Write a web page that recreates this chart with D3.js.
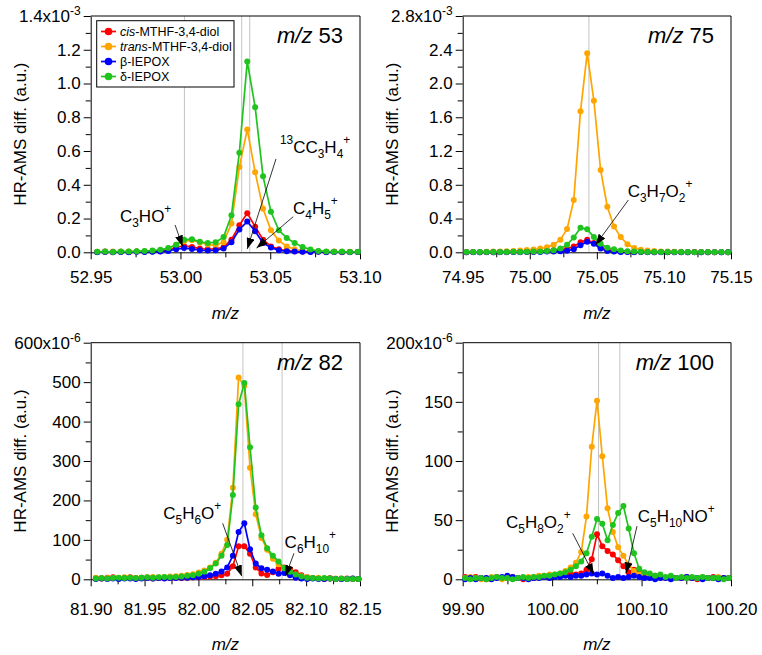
<!DOCTYPE html>
<html><head><meta charset="utf-8">
<script src="https://cdn.jsdelivr.net/npm/d3@7"></script>
<style>
body{margin:0;background:#fff;}
svg text{font-family:Arial,"Liberation Sans",Helvetica,sans-serif;fill:#000;}
</style></head>
<body><svg id="c" width="762" height="655"></svg>
<script>
// ---------------- DATA ----------------
const seriesNames = ["cis-MTHF-3,4-diol","trans-MTHF-3,4-diol","β-IEPOX","δ-IEPOX"];
const seriesItalic = ["cis","trans","",""];
const seriesColors = ["#ff0000","#ffa500","#0000ff","#1fc41f"];

// m/z 53 (values x10^-3)
const x53 = [52.9536,52.9580,52.9624,52.9668,52.9712,52.9756,52.9800,52.9844,52.9888,52.9932,52.9976,53.0020,53.0064,53.0108,53.0152,53.0196,53.0240,53.0284,53.0328,53.0372,53.0416,53.0460,53.0504,53.0548,53.0592,53.0636,53.0680,53.0724,53.0768,53.0812,53.0856,53.0900,53.0944,53.0988];
const cis53 = [0.002,0.004,0.001,0.003,0.002,0.004,0.003,0.005,0.006,0.012,0.030,0.038,0.032,0.022,0.018,0.020,0.030,0.075,0.160,0.232,0.152,0.075,0.035,0.018,0.010,0.006,0.004,0.003,0.004,0.002,0.003,0.001,0.002,0.002];
const trans53 = [0.003,0.002,0.004,0.003,0.005,0.004,0.006,0.008,0.012,0.022,0.045,0.065,0.072,0.058,0.045,0.042,0.060,0.170,0.505,0.728,0.475,0.258,0.130,0.070,0.035,0.018,0.010,0.006,0.004,0.003,0.004,0.002,0.003,0.002];
const beta53 = [0.001,0.002,0.001,0.002,0.001,0.003,0.002,0.003,0.004,0.008,0.018,0.025,0.020,0.012,0.010,0.012,0.022,0.060,0.135,0.182,0.125,0.055,0.028,0.012,0.006,0.004,0.003,0.002,0.003,0.001,0.002,0.002,0.001,0.002];
const delta53 = [0.003,0.004,0.002,0.005,0.004,0.006,0.008,0.010,0.015,0.025,0.045,0.075,0.078,0.062,0.055,0.060,0.090,0.220,0.590,1.130,0.860,0.450,0.240,0.130,0.085,0.055,0.032,0.016,0.008,0.005,0.003,0.004,0.002,0.003];

// m/z 75 (values x10^-3)
const x75 = [74.9528,74.9578,74.9628,74.9678,74.9728,74.9778,74.9828,74.9878,74.9928,74.9978,75.0028,75.0078,75.0128,75.0178,75.0228,75.0278,75.0328,75.0378,75.0428,75.0478,75.0528,75.0578,75.0628,75.0678,75.0728,75.0778,75.0828,75.0878,75.0928,75.0978,75.1028,75.1078,75.1128,75.1178,75.1228,75.1278,75.1328,75.1378,75.1428,75.1478];
const cis75 = [0.002,0.003,0.002,0.003,0.002,0.004,0.003,0.004,0.005,0.006,0.008,0.012,0.018,0.025,0.030,0.040,0.070,0.120,0.150,0.110,0.060,0.030,0.018,0.010,0.006,0.004,0.003,0.004,0.002,0.003,0.002,0.003,0.002,0.002,0.003,0.002,0.002,0.001,0.002,0.002];
const trans75 = [0.003,0.004,0.005,0.006,0.008,0.010,0.013,0.016,0.020,0.026,0.034,0.045,0.060,0.088,0.150,0.275,0.620,1.670,2.360,1.795,0.975,0.540,0.305,0.180,0.095,0.050,0.030,0.020,0.014,0.010,0.008,0.007,0.006,0.005,0.005,0.004,0.004,0.003,0.003,0.002];
const beta75 = [0.001,0.002,0.001,0.002,0.001,0.002,0.002,0.003,0.002,0.003,0.004,0.005,0.008,0.010,0.012,0.018,0.035,0.085,0.125,0.100,0.045,0.015,0.008,0.005,0.003,0.002,0.003,0.002,0.001,0.002,0.002,0.001,0.002,0.001,0.002,0.001,0.001,0.002,0.001,0.001];
const delta75 = [0.004,0.003,0.005,0.004,0.003,0.005,0.004,0.006,0.005,0.006,0.008,0.010,0.015,0.025,0.045,0.090,0.175,0.292,0.272,0.180,0.100,0.055,0.035,0.020,0.012,0.008,0.006,0.005,0.004,0.005,0.003,0.004,0.003,0.004,0.002,0.003,0.003,0.002,0.003,0.002];

// m/z 82 (values x10^-6)
const x82 = [81.9048,81.9101,81.9154,81.9207,81.9260,81.9313,81.9366,81.9419,81.9472,81.9525,81.9578,81.9631,81.9684,81.9737,81.9790,81.9843,81.9896,81.9949,82.0002,82.0055,82.0108,82.0161,82.0214,82.0267,82.0320,82.0373,82.0426,82.0479,82.0532,82.0585,82.0638,82.0691,82.0744,82.0797,82.0850,82.0903,82.0956,82.1009,82.1062,82.1115,82.1168,82.1221,82.1274,82.1327,82.1380,82.1433,82.1486];
const cis82 = [3,2,4,5,3,4,5,3,4,3,2,3,4,3,4,3,4,5,5,6,7,8,10,14,33,84,84,65,30,15,11,18,27,30,26,18,10,5,3,2,1,2,1,1,2,1,1];
const trans82 = [4,2,3,4,3,5,4,3,4,5,6,5,6,7,8,9,11,13,17,22,30,42,65,100,232,512,490,283,165,105,75,52,38,28,20,12,8,5,3,4,2,3,2,2,1,2,1];
const beta82 = [1,2,1,2,1,2,2,1,2,3,2,3,2,3,3,4,4,5,6,8,10,14,20,30,60,120,142,76,40,28,24,20,14,16,10,4,2,1,2,1,1,2,1,1,1,2,1];
const delta82 = [2,3,2,3,4,3,4,3,4,5,4,5,6,5,6,7,9,10,14,19,28,40,60,87,214,444,498,335,182,112,79,60,45,28,19,12,7,4,3,2,3,2,1,2,1,1,1];

// m/z 100 (values x10^-6)
const x100 = [99.9027,99.9086,99.9145,99.9204,99.9263,99.9322,99.9381,99.9440,99.9499,99.9558,99.9617,99.9676,99.9735,99.9794,99.9853,99.9912,99.9971,100.0030,100.0089,100.0148,100.0207,100.0266,100.0325,100.0384,100.0443,100.0502,100.0561,100.0620,100.0679,100.0738,100.0797,100.0856,100.0915,100.0974,100.1033,100.1092,100.1151,100.1210,100.1269,100.1328,100.1387,100.1446,100.1505,100.1564,100.1623,100.1682,100.1741,100.1800,100.1859,100.1918,100.1977];
const cis100 = [2,1,2,1,0,1,2,1,1,2,1,0,1,1,2,2,3,3,4,4,5,4,5,8,17,38,28,24,21,16,11,6,8,5,3,2,3,2,1,2,1,1,2,1,0,1,1,2,1,1,1];
const trans100 = [1,2,1,0,1,2,1,0,1,2,1,1,2,2,3,3,4,4,5,7,10,14,23,53,112,151,104,60,40,27,20,12,7,4,3,3,2,3,1,2,1,1,2,1,1,2,1,1,2,1,1];
const beta100 = [0,1,0,1,1,0,1,2,3,2,1,1,0,1,1,2,1,2,2,3,2,3,3,4,5,4,5,3,1,2,1,2,3,2,1,1,0,1,1,0,1,1,2,1,1,0,1,1,0,1,1];
const delta100 = [1,0,1,1,0,1,2,1,1,0,1,2,1,2,2,3,3,4,5,6,8,11,15,22,36,51,47,33,46,56,62,43,22,9,6,5,3,4,2,3,1,2,1,2,1,2,1,1,1,0,1];

// ion exact masses (grey guide lines)
const ions53 = [53.0022, 53.0341, 53.0386];
const ions75 = [75.0441];
const ions82 = [82.0413, 82.0777];
const ions100 = [100.0519, 100.0757];

// ion annotations: label, text anchor (data), arrow tail -> head (data)
const ann53 = [
  {label:"C_3HO^+", tx:52.9663, ty:0.18, x1:52.997, y1:0.162, x2:53.0012, y2:0.035},
  {label:"^{13}CC_3H_4^+", tx:53.0554, ty:0.588, x1:53.0532, y1:0.553, x2:53.0372, y2:0.02},
  {label:"C_4H_5^+", tx:53.0627, ty:0.227, x1:53.0628, y1:0.211, x2:53.0424, y2:0.025}
];
const ann75 = [
  {label:"C_3H_7O_2^+", tx:75.073, ty:0.655, x1:75.0735, y1:0.62, x2:75.049, y2:0.086}
];
const ann82 = [
  {label:"C_5H_6O^+", tx:81.9674, ty:153, x1:82.0225, y1:142, x2:82.0402, y2:8},
  {label:"C_6H_{10}^+", tx:82.0800, ty:79, x1:82.0887, y1:66, x2:82.0808, y2:8}
];
const ann100 = [
  {label:"C_5H_8O_2^+", tx:99.9484, ty:43.4, x1:100.023, y1:38.9, x2:100.0465, y2:4},
  {label:"C_5H_{10}NO^+", tx:100.0957, ty:48.4, x1:100.0949, y1:45, x2:100.0826, y2:5}
];

// tick labels
const xMajor53 = [52.95,53.00,53.05,53.10], xMinor53 = [52.975,53.025,53.075];
const yMajor53 = [0,0.2,0.4,0.6,0.8,1.0,1.2], yMinor53 = [0.1,0.3,0.5,0.7,0.9,1.1,1.3];
const xMajor75 = [74.95,75.00,75.05,75.10,75.15], xMinor75 = [74.975,75.025,75.075,75.125];
const yMajor75 = [0,0.4,0.8,1.2,1.6,2.0,2.4], yMinor75 = [0.2,0.6,1.0,1.4,1.8,2.2,2.6];
const xMajor82 = [81.90,81.95,82.00,82.05,82.10,82.15], xMinor82 = [81.925,81.975,82.025,82.075,82.125];
const yMajor82 = [0,100,200,300,400,500], yMinor82 = [50,150,250,350,450,550];
const xMajor100 = [99.90,100.00,100.10,100.20], xMinor100 = [99.95,100.05,100.15];
const yMajor100 = [0,50,100,150], yMinor100 = [25,75,125,175];

// ---------------- LAYOUT ----------------
const svg = d3.select("#c");
const FONT = 'Arial, "Liberation Sans", Helvetica, sans-serif';
const defs = svg.append("defs");
defs.append("marker").attr("id","ah").attr("markerUnits","userSpaceOnUse")
  .attr("markerWidth",11).attr("markerHeight",8).attr("refX",11).attr("refY",4)
  .attr("orient","auto")
  .append("path").attr("d","M0,0 L11,4 L0,8 Z").attr("fill","#000");

const panels = [
  {left:90.7, top:16, w:269.3, h:236.3, xs:x53, ys:[cis53,trans53,beta53,delta53], xDom:[52.95,53.10], yTop:1.4, exp:"-3",
   xMaj:xMajor53, xMin:xMinor53, yMaj:yMajor53, yMin:yMinor53, yFmt:".1f", ions:ions53, ann:ann53, title:"53", xLabOff:30.5, xTitle:319, legend:true},
  {left:462.7, top:16, w:268.3, h:236.3, xs:x75, ys:[cis75,trans75,beta75,delta75], xDom:[74.95,75.15], yTop:2.8, exp:"-3",
   xMaj:xMajor75, xMin:xMinor75, yMaj:yMajor75, yMin:yMinor75, yFmt:".1f", ions:ions75, ann:ann75, title:"75", xLabOff:30.5, xTitle:319},
  {left:90.7, top:342.7, w:269.3, h:236.6, xs:x82, ys:[cis82,trans82,beta82,delta82], xDom:[81.90,82.15], yTop:600, exp:"-6",
   xMaj:xMajor82, xMin:xMinor82, yMaj:yMajor82, yMin:yMinor82, yFmt:"d", ions:ions82, ann:ann82, title:"82", xLabOff:36, xTitle:650},
  {left:462.7, top:342.7, w:268.3, h:236.6, xs:x100, ys:[cis100,trans100,beta100,delta100], xDom:[99.90,100.20], yTop:200, exp:"-6",
   xMaj:xMajor100, xMin:xMinor100, yMaj:yMajor100, yMin:yMinor100, yFmt:"d", ions:ions100, ann:ann100, title:"100", xLabOff:36, xTitle:650}
];

function parseRich(str){
  const re = /(_\{[^}]*\}|_\d+|\^\{[^}]*\}|\^[+\-]|\*[^*]*\*)/g;
  const out = []; let last = 0, m;
  while((m = re.exec(str))){
    if(m.index > last) out.push({t:str.slice(last,m.index), k:"n"});
    let tok = m[0];
    if(tok[0]==="_") out.push({t:tok.replace(/^_\{?|\}$/g,""), k:"sub"});
    else if(tok[0]==="^") out.push({t:tok.replace(/^\^\{?|\}$/g,""), k:"sup"});
    else out.push({t:tok.slice(1,-1), k:"it"});
    last = m.index + tok.length;
  }
  if(last < str.length) out.push({t:str.slice(last), k:"n"});
  return out;
}
function rich(textSel, str, size){
  let shift = 0;
  parseRich(str).forEach(p=>{
    const target = p.k==="sub" ? size*0.3 : p.k==="sup" ? -size*0.55 : 0;
    const ts = textSel.append("tspan").text(p.t);
    if(target - shift !== 0) ts.attr("dy", target - shift);
    if(p.k==="sub"||p.k==="sup") ts.attr("font-size", size*0.7);
    if(p.k==="it") ts.attr("font-style","italic");
    shift = target;
  });
}

panels.forEach((P,pi)=>{
  const x = d3.scaleLinear().domain(P.xDom).range([P.left, P.left+P.w]);
  const y = d3.scaleLinear().domain([0,P.yTop]).range([P.top+P.h, P.top]);
  const g = svg.append("g");

  // ion guide lines
  g.selectAll("line.ion").data(P.ions).join("line")
    .attr("x1",d=>x(d)).attr("x2",d=>x(d)).attr("y1",y(P.yTop)).attr("y2",y(0))
    .attr("stroke","#c4c4c4").attr("stroke-width",1);

  // frame (top & right)
  g.append("path").attr("d",`M${P.left},${P.top}H${P.left+P.w}V${P.top+P.h}`)
    .attr("fill","none").attr("stroke","#000").attr("stroke-width",1);

  // axes
  const yAx = g.append("g").attr("transform",`translate(${P.left},0)`)
    .call(d3.axisLeft(y).tickValues(P.yMaj.concat([P.yTop])).tickSize(7).tickSizeOuter(0).tickPadding(3)
      .tickFormat(d=> d===P.yTop ? d3.format(P.yFmt==="d"?"d":".1f")(d)+"x10" : d3.format(P.yFmt)(d)));
  g.append("g").attr("transform",`translate(${P.left},0)`)
    .call(d3.axisLeft(y).tickValues(P.yMin).tickSize(5).tickSizeOuter(0).tickFormat(""))
    .select(".domain").remove();
  yAx.selectAll("text").attr("font-size",17).attr("font-family",FONT).attr("fill","#000");
  yAx.selectAll(".tick").filter(d=>d===P.yTop).select("text")
    .append("tspan").attr("font-size",12).attr("dy",-7).text(P.exp);
  yAx.select(".domain").attr("stroke","#000");

  const xAx = g.append("g").attr("transform",`translate(0,${P.top+P.h})`)
    .call(d3.axisBottom(x).tickValues(P.xMaj).tickSize(7).tickSizeOuter(0).tickPadding(P.xLabOff-7-12)
      .tickFormat(d3.format(".2f")));
  xAx.selectAll("text").attr("font-size",17).attr("font-family",FONT).attr("fill","#000");
  g.append("g").attr("transform",`translate(0,${P.top+P.h})`)
    .call(d3.axisBottom(x).tickValues(P.xMin).tickSize(5).tickSizeOuter(0).tickFormat(""))
    .select(".domain").remove();

  // axis titles
  g.append("text").attr("transform",`translate(${P.left-64.5},${P.top+P.h/2}) rotate(-90)`)
    .attr("text-anchor","middle").attr("font-size",17).text("HR-AMS diff. (a.u.)");
  g.append("text").attr("x",P.left+P.w/2).attr("y",P.xTitle).attr("text-anchor","middle")
    .attr("font-size",17).attr("font-style","italic").text("m/z");

  // panel title
  const tt = g.append("text").attr("x",P.left+P.w-17).attr("y",P.top+27).attr("text-anchor","end").attr("font-size",22);
  tt.append("tspan").attr("font-style","italic").text("m/z");
  tt.append("tspan").text(" "+P.title);

  // series
  const line = d3.line().x((d,i)=>x(P.xs[i])).y(d=>y(d));
  P.ys.forEach((vals,si)=>{
    const sg = g.append("g");
    sg.append("path").datum(vals).attr("d",line).attr("fill","none")
      .attr("stroke",seriesColors[si]).attr("stroke-width",1.7).attr("stroke-linejoin","round");
    sg.selectAll("circle").data(vals).join("circle")
      .attr("cx",(d,i)=>x(P.xs[i])).attr("cy",d=>y(d)).attr("r",3).attr("fill",seriesColors[si]);
  });

  // annotations
  P.ann.forEach(a=>{
    g.append("line").attr("x1",x(a.x1)).attr("y1",y(a.y1)).attr("x2",x(a.x2)).attr("y2",y(a.y2))
      .attr("stroke","#000").attr("stroke-width",0.8).attr("marker-end","url(#ah)");
    const t = g.append("text").attr("x",x(a.tx)).attr("y",y(a.ty)).attr("font-size",17);
    rich(t, a.label, 17);
  });

  // legend
  if(P.legend){
    const lg = svg.append("g");
    lg.append("rect").attr("x",96.7).attr("y",20.7).attr("width",137.3).attr("height",66.3)
      .attr("fill","#fff").attr("stroke","#000").attr("stroke-width",1);
    seriesNames.forEach((nm,si)=>{
      const cy = 31.5 + si*15;
      lg.append("line").attr("x1",101).attr("x2",116).attr("y1",cy).attr("y2",cy)
        .attr("stroke",seriesColors[si]).attr("stroke-width",1.7);
      lg.append("circle").attr("cx",108.5).attr("cy",cy).attr("r",3.8).attr("fill",seriesColors[si]);
      const t = lg.append("text").attr("x",120).attr("y",cy+4.5).attr("font-size",12.5);
      const it = seriesItalic[si];
      if(it){ t.append("tspan").attr("font-style","italic").text(it); t.append("tspan").text(nm.slice(it.length)); }
      else t.text(nm);
    });
  }
});
</script>
</body></html>
